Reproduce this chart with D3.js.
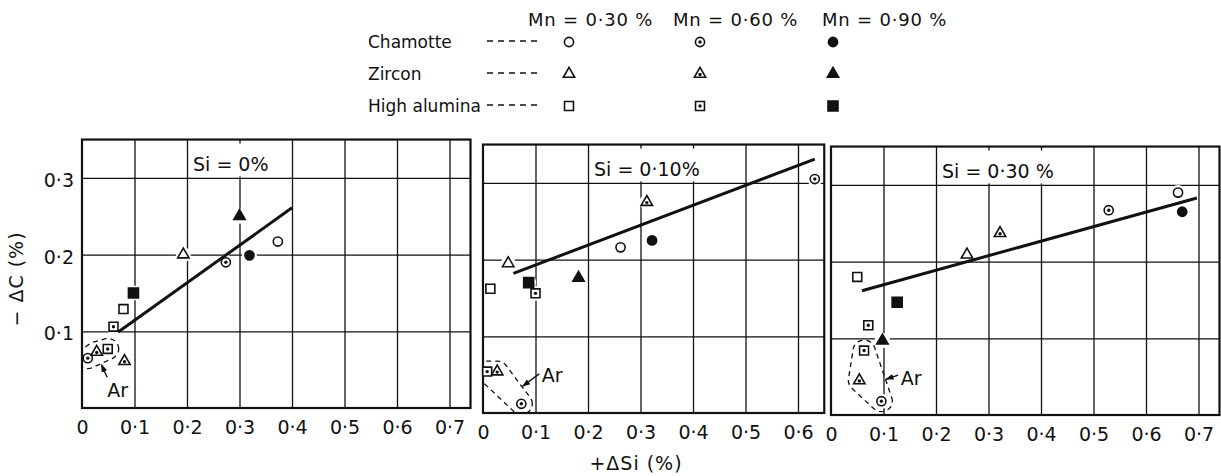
<!DOCTYPE html>
<html><head><meta charset="utf-8">
<script src="https://cdn.jsdelivr.net/npm/d3@7"></script>
<style>
body{margin:0;background:#fff}
text{font-family:"DejaVu Sans",sans-serif;fill:#111}
</style>
</head><body>
<svg id="c" width="1221" height="476"></svg>
<script>
// ---------------- data ----------------
const panelLabels = ["Si = 0%", "Si = 0·10%", "Si = 0·30 %"];
const panelXMax = [0.74, 0.65, 0.74];
const materials = ["Chamotte", "Zircon", "High alumina"];
const mnValues = [0.30, 0.60, 0.90];
const mnLabels = ["Mn = 0·30 %", "Mn = 0·60 %", "Mn = 0·90 %"];
const xTickValues = [
  [0, 0.1, 0.2, 0.3, 0.4, 0.5, 0.6, 0.7],
  [0, 0.1, 0.2, 0.3, 0.4, 0.5, 0.6],
  [0, 0.1, 0.2, 0.3, 0.4, 0.5, 0.6, 0.7]
];
const xTickLabels = ["0", "0·1", "0·2", "0·3", "0·4", "0·5", "0·6", "0·7"];
const yTickValues = [0.1, 0.2, 0.3];
const yTickLabels = ["0·1", "0·2", "0·3"];
const xTitle = "+ΔSi (%)";
const yTitle = "− ΔC (%)";
const argonLabel = "Ar";

// [material, Mn %, +ΔSi %, −ΔC %, argon atmosphere]
const pointsSi0 = [
  ["Zircon", 0.90, 0.300, 0.250, false],
  ["Chamotte", 0.30, 0.373, 0.217, false],
  ["Zircon", 0.30, 0.193, 0.200, false],
  ["Chamotte", 0.60, 0.274, 0.190, false],
  ["Chamotte", 0.90, 0.319, 0.199, false],
  ["High alumina", 0.90, 0.098, 0.150, false],
  ["High alumina", 0.30, 0.079, 0.129, false],
  ["High alumina", 0.60, 0.060, 0.106, false],
  ["Zircon", 0.60, 0.081, 0.061, false],
  ["Chamotte", 0.60, 0.011, 0.065, true],
  ["Zircon", 0.60, 0.028, 0.073, true],
  ["High alumina", 0.60, 0.049, 0.077, true]
];
const pointsSi010 = [
  ["Zircon", 0.60, 0.312, 0.275, false],
  ["Chamotte", 0.90, 0.322, 0.225, false],
  ["Chamotte", 0.30, 0.262, 0.216, false],
  ["Zircon", 0.30, 0.048, 0.195, false],
  ["Zircon", 0.90, 0.182, 0.176, false],
  ["High alumina", 0.30, 0.014, 0.162, false],
  ["High alumina", 0.90, 0.087, 0.170, false],
  ["High alumina", 0.60, 0.100, 0.156, false],
  ["Chamotte", 0.60, 0.632, 0.305, false],
  ["High alumina", 0.60, 0.008, 0.054, true],
  ["Zircon", 0.60, 0.027, 0.054, true],
  ["Chamotte", 0.60, 0.073, 0.012, true]
];
const pointsSi030 = [
  ["Chamotte", 0.30, 0.661, 0.290, false],
  ["Chamotte", 0.60, 0.529, 0.267, false],
  ["Chamotte", 0.90, 0.669, 0.265, false],
  ["Zircon", 0.60, 0.322, 0.237, false],
  ["Zircon", 0.30, 0.259, 0.209, false],
  ["High alumina", 0.30, 0.050, 0.180, false],
  ["High alumina", 0.90, 0.126, 0.147, false],
  ["High alumina", 0.60, 0.071, 0.117, false],
  ["Zircon", 0.90, 0.098, 0.097, false],
  ["High alumina", 0.60, 0.063, 0.084, true],
  ["Zircon", 0.60, 0.054, 0.045, true],
  ["Chamotte", 0.60, 0.096, 0.018, true]
];
// fitted lines: [[x1, y1], [x2, y2]]
const fitSi0 = [[0.069, 0.099], [0.400, 0.261]];
const fitSi010 = [[0.058, 0.182], [0.632, 0.331]];
const fitSi030 = [[0.059, 0.162], [0.697, 0.283]];
// "Ar" note: [text x, text y, arrow tail x, arrow tail y] in data units
const arNoteSi0 = [0.048, 0.014, 0.048, 0.040];
const arNoteSi010 = [0.112, 0.040, 0.107, 0.051];
const arNoteSi030 = [0.133, 0.039, 0.128, 0.052];

const panelPoints = [pointsSi0, pointsSi010, pointsSi030];
const panelFits = [fitSi0, fitSi010, fitSi030];
const panelArNotes = [arNoteSi0, arNoteSi010, arNoteSi030];

// ---------------- layout ----------------
const W = 1221, H = 476;
const panelLeft = [82, 483, 831];
const panelBottom = [408, 413, 415];
const pxPerX = 525, pxPerY = 767, yMax = 0.35;
const INK = "#111";
const FONT = 19;

const svg = d3.select("#c");
svg.append("rect").attr("width", W).attr("height", H).attr("fill", "#fff");
const defs = svg.append("defs");
defs.append("marker").attr("id", "arrow").attr("viewBox", "0 0 10 10")
  .attr("refX", 9).attr("refY", 5).attr("markerWidth", 6).attr("markerHeight", 6)
  .attr("orient", "auto")
  .append("path").attr("d", "M0,1.5L10,5L0,8.5z").attr("fill", INK);

const shapeOf = { "Chamotte": d3.symbolCircle, "Zircon": d3.symbolTriangle, "High alumina": d3.symbolSquare };
const sizeOf = { "Chamotte": 66, "Zircon": 56, "High alumina": 80 };

function drawMarker(g, cx, cy, material, mn) {
  const style = mn === mnValues[0] ? "open" : mn === mnValues[1] ? "dot" : "solid";
  g.append("path")
    .attr("d", d3.symbol(shapeOf[material], sizeOf[material] * (style === "solid" && material === "High alumina" ? 1.25 : 1))())
    .attr("transform", `translate(${cx},${cy})`)
    .attr("fill", style === "solid" ? INK : "#fff")
    .attr("stroke", INK).attr("stroke-width", 1.6);
  if (style === "dot") {
    g.append("circle").attr("cx", cx).attr("cy", cy + (material === "Zircon" ? 0.5 : 0))
      .attr("r", 1.7).attr("fill", INK);
  }
}

function closestOnPoly(poly, q) {
  let best = poly[0], bd = Infinity;
  for (let k = 0; k < poly.length; k++) {
    const a = poly[k], b = poly[(k + 1) % poly.length];
    const dx = b[0] - a[0], dy = b[1] - a[1];
    const L = dx * dx + dy * dy;
    let t = L ? ((q[0] - a[0]) * dx + (q[1] - a[1]) * dy) / L : 0;
    t = Math.max(0, Math.min(1, t));
    const p = [a[0] + t * dx, a[1] + t * dy];
    const d = Math.hypot(q[0] - p[0], q[1] - p[1]);
    if (d < bd) { bd = d; best = p; }
  }
  return best;
}

panelPoints.forEach((pts, i) => {
  const left = panelLeft[i], bottom = panelBottom[i];
  const x = d3.scaleLinear().domain([0, panelXMax[i]]).range([left, left + panelXMax[i] * pxPerX]);
  const y = d3.scaleLinear().domain([0, yMax]).range([bottom, bottom - yMax * pxPerY]);
  const top = y(yMax), right = x(panelXMax[i]);
  const g = svg.append("g");

  // clip
  defs.append("clipPath").attr("id", "clip" + i).append("rect")
    .attr("x", left).attr("y", top).attr("width", right - left).attr("height", bottom - top);

  // vertical grid
  g.append("g").attr("transform", `translate(0,${bottom})`)
    .call(d3.axisBottom(x).tickValues(xTickValues[i].filter(v => v > 0)).tickSize(-(bottom - top)).tickFormat(""))
    .call(s => s.select(".domain").remove())
    .call(s => s.selectAll("line").attr("stroke", INK).attr("stroke-width", 1.3));
  // horizontal grid
  g.append("g").attr("transform", `translate(${left},0)`)
    .call(d3.axisLeft(y).tickValues(yTickValues).tickSize(-(right - left)).tickFormat(""))
    .call(s => s.select(".domain").remove())
    .call(s => s.selectAll("line").attr("stroke", INK).attr("stroke-width", 1.3));

  // x tick labels
  g.append("g").attr("transform", `translate(0,${bottom})`)
    .call(d3.axisBottom(x).tickValues(xTickValues[i]).tickSize(0).tickPadding(13)
      .tickFormat((d, j) => xTickLabels[j]))
    .call(s => s.select(".domain").remove())
    .call(s => s.selectAll("text").attr("font-size", FONT).attr("font-family", '"DejaVu Sans",sans-serif').attr("fill", INK));

  if (i === 0) {
    g.append("g").attr("transform", `translate(${left},0)`)
      .call(d3.axisLeft(y).tickValues(yTickValues).tickSize(0).tickPadding(8)
        .tickFormat((d, j) => yTickLabels[j]))
      .call(s => s.select(".domain").remove())
      .call(s => s.selectAll("text").attr("font-size", FONT).attr("font-family", '"DejaVu Sans",sans-serif').attr("fill", INK).attr("dy", "0.45em"));
  }

  // Si label with white box
  const lab = g.append("g");
  const t = lab.append("text").attr("x", x(0.2) + 6).attr("y", top + 31)
    .attr("font-size", FONT).text(panelLabels[i]);
  const bb = t.node().getBBox();
  lab.insert("rect", "text").attr("x", bb.x - 3).attr("y", top + 4)
    .attr("width", bb.width + 6).attr("height", y(0.3) - top - 5.5).attr("fill", "#fff");

  // halos
  const px = pts.map(p => [x(p[2]), y(p[3])]);
  g.append("g").selectAll("circle").data(px).join("circle")
    .attr("cx", d => d[0]).attr("cy", d => d[1]).attr("r", 7.5).attr("fill", "#fff");

  // frame
  g.append("rect").attr("x", left).attr("y", top).attr("width", right - left).attr("height", bottom - top)
    .attr("fill", "none").attr("stroke", INK).attr("stroke-width", 2.2);

  // fitted line
  g.append("path").attr("d", d3.line().x(d => x(d[0])).y(d => y(d[1]))(panelFits[i]))
    .attr("stroke", INK).attr("stroke-width", 3).attr("fill", "none");

  // argon group outline
  const arPts = pts.filter(p => p[4]).map(p => [x(p[2]), y(p[3])]);
  const pad = 11;
  const ring = [];
  arPts.forEach(p => { for (let k = 0; k < 32; k++) { const a = k / 32 * 2 * Math.PI; ring.push([p[0] + pad * Math.cos(a), p[1] + pad * 0.95 * Math.sin(a)]); } });
  const hull = d3.polygonHull(ring);
  g.append("path").attr("clip-path", `url(#clip${i})`)
    .attr("d", "M" + hull.map(p => p.join(",")).join("L") + "Z")
    .attr("fill", "none").attr("stroke", INK).attr("stroke-width", 1.3).attr("stroke-dasharray", "5,4");
  const note = panelArNotes[i];
  const tail = [x(note[2]), y(note[3])];
  const rawHull = d3.polygonHull(arPts) || arPts;
  const c = closestOnPoly(rawHull, tail);
  const dl = Math.hypot(tail[0] - c[0], tail[1] - c[1]);
  const tip = [c[0] + (tail[0] - c[0]) / dl * (pad + 0.5), c[1] + (tail[1] - c[1]) / dl * (pad + 0.5)];
  g.append("line").attr("x1", tail[0]).attr("y1", tail[1]).attr("x2", tip[0]).attr("y2", tip[1])
    .attr("stroke", INK).attr("stroke-width", 1.4).attr("marker-end", "url(#arrow)");
  g.append("text").attr("x", x(note[0])).attr("y", y(note[1])).attr("font-size", FONT).text(argonLabel);

  // markers
  const mg = g.append("g");
  pts.forEach(p => drawMarker(mg, x(p[2]), y(p[3]), p[0], p[1]));
});

// axis titles
svg.append("text").attr("x", 636).attr("y", 470).attr("text-anchor", "middle")
  .attr("font-size", FONT).attr("letter-spacing", 1).text(xTitle);
svg.append("text").attr("transform", "translate(23,279) rotate(-90)").attr("text-anchor", "middle")
  .attr("font-size", FONT).attr("letter-spacing", 1).text(yTitle);

// legend
const legHeadX = [528, 673, 822];
const legColX = [569, 700, 833];
const legRowY = [42, 74, 106];
const leg = svg.append("g");
mnLabels.forEach((s, j) => {
  leg.append("text").attr("x", legHeadX[j]).attr("y", 26).attr("font-size", 18)
    .attr("letter-spacing", 0.8).text(s);
});
materials.forEach((m, r) => {
  leg.append("text").attr("x", 368).attr("y", legRowY[r] + 6).attr("font-size", 17).text(m);
  leg.append("line").attr("x1", 487).attr("x2", 542).attr("y1", legRowY[r] - 1).attr("y2", legRowY[r] - 1)
    .attr("stroke", INK).attr("stroke-width", 1.3).attr("stroke-dasharray", "6,5");
  mnValues.forEach((mn, j) => drawMarker(leg, legColX[j], legRowY[r], m, mn));
});
</script>
</body></html>
